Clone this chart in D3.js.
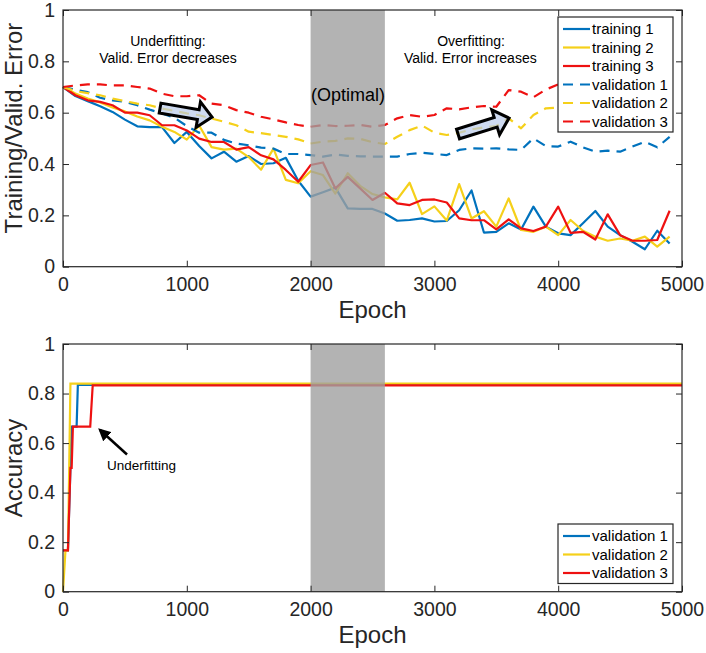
<!DOCTYPE html>
<html>
<head>
<meta charset="utf-8">
<script src="https://cdn.jsdelivr.net/npm/d3@7"></script>
<style>
  html, body { margin: 0; padding: 0; background: #fff; }
  svg { display: block; font-family: "Liberation Sans", Arial, sans-serif; }
</style>
</head>
<body>
<svg id="chart" width="706" height="653"></svg>
<script>
// ---------- DATA ----------
const epochs = d3.range(0, 5000, 100); // 0..4900 (50 points)

const training1 = [0.70,0.665,0.645,0.625,0.603,0.573,0.547,0.544,0.544,0.482,
  0.525,0.47,0.422,0.448,0.409,0.431,0.400,0.403,0.424,0.335,
  0.273,0.29,0.308,0.227,0.225,0.225,0.207,0.179,0.182,0.188,
  0.176,0.178,0.22,0.297,0.133,0.136,0.169,0.145,0.234,0.156,
  0.13,0.123,0.169,0.217,0.156,0.123,0.097,0.068,0.14,0.09];
const training2 = [0.70,0.675,0.655,0.64,0.62,0.605,0.585,0.57,0.545,0.525,
  0.495,0.55,0.466,0.456,0.46,0.427,0.378,0.46,0.338,0.325,
  0.372,0.357,0.285,0.364,0.315,0.283,0.27,0.262,0.327,0.205,
  0.235,0.18,0.322,0.188,0.216,0.156,0.266,0.143,0.136,0.156,
  0.123,0.182,0.14,0.117,0.101,0.11,0.101,0.117,0.078,0.117];
const training3 = [0.70,0.668,0.648,0.642,0.629,0.60,0.60,0.59,0.551,0.551,
  0.531,0.499,0.486,0.486,0.456,0.466,0.434,0.418,0.377,0.331,
  0.396,0.406,0.305,0.35,0.305,0.26,0.288,0.247,0.24,0.26,
  0.262,0.25,0.188,0.181,0.181,0.145,0.184,0.149,0.139,0.156,
  0.234,0.132,0.136,0.106,0.204,0.123,0.101,0.101,0.104,0.218];
const validation1 = [0.70,0.69,0.68,0.658,0.648,0.642,0.629,0.612,0.597,0.58,
  0.548,0.522,0.522,0.494,0.48,0.473,0.464,0.46,0.439,0.439,
  0.435,0.429,0.437,0.432,0.43,0.429,0.429,0.429,0.439,0.444,
  0.439,0.435,0.455,0.461,0.46,0.461,0.457,0.455,0.50,0.47,
  0.468,0.487,0.465,0.448,0.452,0.448,0.468,0.487,0.465,0.506];
const validation2 = [0.70,0.684,0.676,0.668,0.655,0.645,0.635,0.629,0.616,0.607,
  0.597,0.59,0.577,0.565,0.551,0.526,0.52,0.513,0.506,0.496,
  0.48,0.487,0.49,0.50,0.498,0.485,0.478,0.506,0.532,0.55,
  0.522,0.513,0.522,0.535,0.543,0.548,0.578,0.539,0.591,0.617,
  0.62,0.625,0.63,0.62,0.635,0.64,0.63,0.645,0.64,0.65];
const validation3 = [0.70,0.706,0.71,0.71,0.706,0.706,0.70,0.694,0.674,0.664,
  0.664,0.668,0.635,0.629,0.61,0.60,0.584,0.574,0.562,0.552,
  0.545,0.552,0.548,0.549,0.552,0.545,0.552,0.578,0.591,0.584,
  0.591,0.617,0.613,0.621,0.626,0.623,0.688,0.682,0.66,0.69,
  0.71,0.72,0.70,0.73,0.74,0.72,0.75,0.74,0.76,0.75];

// bottom panel: validation accuracy (step-like)
const accEpochs1 = [0,40,60,70,110,120,5000];
const accValues1 = [0.1667,0.1667,0.5,0.6667,0.6667,0.835,0.835];
const accEpochs2 = [0,20,40,50,60,5000];
const accValues2 = [0,0.1667,0.1667,0.5,0.84,0.84];
const accEpochs3 = [0,40,60,70,80,220,240,5000];
const accValues3 = [0.1667,0.1667,0.5,0.5,0.6667,0.6667,0.8333,0.8333];

const xTicks = [0,1000,2000,3000,4000,5000];
const yTicks = [0,0.2,0.4,0.6,0.8,1];
const optimalRange = [2000, 2600];

const topNames = ["training 1","training 2","training 3","validation 1","validation 2","validation 3"];
const bottomNames = ["validation 1","validation 2","validation 3"];
const seriesColors = ["#0072BD","#F5D01A","#EE1111"];

// ---------- SETUP ----------
const svg = d3.select("#chart");
svg.append("rect").attr("width",706).attr("height",653).attr("fill","#fff");

const x = d3.scaleLinear().domain([0,5000]).range([63,682]);
const yTop = d3.scaleLinear().domain([0,1]).range([266.7,10]);
const yBot = d3.scaleLinear().domain([0,1]).range([591.7,344]);

const axisColor = "#262626";
const tickFont = "19.5px";

function drawAxes(y, labelText, labelY, xLabelY) {
  const g = svg.append("g");
  g.append("g").attr("transform",`translate(0,${y(0)})`)
    .call(d3.axisBottom(x).tickValues(xTicks).tickFormat(d3.format("d")).tickSizeInner(-6).tickSizeOuter(0).tickPadding(10));
  g.append("g").attr("transform",`translate(0,${y(1)})`)
    .call(d3.axisTop(x).tickValues(xTicks).tickFormat("").tickSizeInner(-6).tickSizeOuter(0));
  g.append("g").attr("transform",`translate(${x(0)},0)`)
    .call(d3.axisLeft(y).tickValues(yTicks).tickFormat(d => d===0||d===1 ? String(d) : d3.format(".1f")(d)).tickSizeInner(-6).tickSizeOuter(0).tickPadding(8));
  g.append("g").attr("transform",`translate(${x(5000)},0)`)
    .call(d3.axisRight(y).tickValues(yTicks).tickFormat("").tickSizeInner(-6).tickSizeOuter(0));
  g.selectAll(".domain").remove();
  g.selectAll(".tick line").attr("stroke",axisColor).attr("stroke-width",1);
  g.selectAll(".tick text").attr("fill",axisColor).style("font-size",tickFont)
    .style("font-family","'Liberation Sans', Arial, sans-serif");
  g.append("rect").attr("x",x(0)).attr("y",y(1)).attr("width",x(5000)-x(0)).attr("height",y(0)-y(1))
    .attr("fill","none").attr("stroke",axisColor).attr("stroke-width",1.2);
  g.append("text").attr("transform",`translate(22,${labelY}) rotate(-90)`)
    .attr("text-anchor","middle").attr("fill",axisColor).style("font-size","24px").text(labelText);
  g.append("text").attr("x",(x(0)+x(5000))/2).attr("y",xLabelY)
    .attr("text-anchor","middle").attr("fill",axisColor).style("font-size","24px").text("Epoch");
}

function blockArrow(g, tail, tip) {
  const x0 = x(tail[0]), y0 = yTop(tail[1]), x1 = x(tip[0]), y1 = yTop(tip[1]);
  const L = Math.hypot(x1-x0, y1-y0);
  const ang = Math.atan2(y1-y0, x1-x0) * 180 / Math.PI;
  const hl = 14, sw = 5, hw = 13;
  const pts = [[0,-sw],[L-hl,-sw],[L-hl,-hw],[L,0],[L-hl,hw],[L-hl,sw],[0,sw]];
  g.append("polygon").attr("points", pts.map(p=>p.join(",")).join(" "))
    .attr("transform",`translate(${x0},${y0}) rotate(${ang})`)
    .attr("fill","rgb(185,203,234)").attr("fill-opacity",0.7)
    .attr("stroke","#000").attr("stroke-width",3).attr("stroke-linejoin","miter");
}

// ---------- TOP PANEL ----------
const topSeries = [training1,training2,training3,validation1,validation2,validation3];
const lineTop = d3.line().x((d,i)=>x(epochs[i])).y(d=>yTop(d));
const topG = svg.append("g");
topSeries.forEach((s,k) => {
  topG.append("path").attr("d", lineTop(s)).attr("fill","none")
    .attr("stroke", seriesColors[k%3]).attr("stroke-width",2.2)
    .attr("stroke-dasharray", k>=3 ? "10,7" : null)
    .attr("stroke-linejoin","round");
});
topG.append("rect").attr("x",x(optimalRange[0])).attr("width",x(optimalRange[1])-x(optimalRange[0]))
  .attr("y",yTop(1)).attr("height",yTop(0)-yTop(1)).attr("fill","#a0a0a0").attr("fill-opacity",0.8);

blockArrow(topG, [784,0.618], [1204,0.583]);
blockArrow(topG, [3191,0.517], [3603,0.579]);

const ann = topG.append("g").attr("fill","#000").style("font-size","14px").attr("text-anchor","middle");
ann.append("text").attr("x",x(848)).attr("y",yTop(0.86)).text("Underfitting:");
ann.append("text").attr("x",x(848)).attr("y",yTop(0.793)).text("Valid. Error decreases");
ann.append("text").attr("x",x(3296)).attr("y",yTop(0.86)).text("Overfitting:");
ann.append("text").attr("x",x(3290)).attr("y",yTop(0.793)).text("Valid. Error increases");
topG.append("text").attr("x",x(2302)).attr("y",yTop(0.645)).attr("text-anchor","middle")
  .style("font-size","18px").attr("fill","#000").text("(Optimal)");

function legend(g, names, left, top, width, rowH, dashedFrom) {
  const lg = g.append("g");
  lg.append("rect").attr("x",left).attr("y",top).attr("width",width).attr("height",rowH*names.length+4)
    .attr("fill","#fff").attr("stroke",axisColor).attr("stroke-width",1.2);
  names.forEach((n,i) => {
    const cy = top + 12 + i*rowH;
    lg.append("line").attr("x1",left+5).attr("x2",left+32).attr("y1",cy).attr("y2",cy)
      .attr("stroke",seriesColors[i%3]).attr("stroke-width",2.2)
      .attr("stroke-dasharray", i>=dashedFrom ? "10,7" : null);
    lg.append("text").attr("x",left+34).attr("y",cy).attr("dy","0.35em")
      .style("font-size","15px").attr("fill","#000").text(n);
  });
}
legend(topG, topNames, 558, 17, 115, 18.5, 3);

drawAxes(yTop, "Training/Valid. Error", 128, 318);

// ---------- BOTTOM PANEL ----------
const botG = svg.append("g");
const accData = [[accEpochs1,accValues1],[accEpochs2,accValues2],[accEpochs3,accValues3]];
accData.forEach(([ex,vals],k) => {
  const line = d3.line().x((d,i)=>x(ex[i])).y(d=>yBot(d));
  botG.append("path").attr("d", line(vals)).attr("fill","none")
    .attr("stroke",seriesColors[k]).attr("stroke-width",2.2).attr("stroke-linejoin","miter");
});
botG.append("rect").attr("x",x(optimalRange[0])).attr("width",x(optimalRange[1])-x(optimalRange[0]))
  .attr("y",yBot(1)).attr("height",yBot(0)-yBot(1)).attr("fill","#a0a0a0").attr("fill-opacity",0.8);

svg.append("defs").append("marker").attr("id","ah").attr("viewBox","0 0 10 10")
  .attr("refX",8).attr("refY",5).attr("markerWidth",5).attr("markerHeight",5).attr("orient","auto")
  .append("path").attr("d","M0,0 L10,5 L0,10 z").attr("fill","#000");
botG.append("line").attr("x1",x(517)).attr("y1",yBot(0.554)).attr("x2",x(299)).attr("y2",yBot(0.653))
  .attr("stroke","#000").attr("stroke-width",2.5).attr("marker-end","url(#ah)");
botG.append("text").attr("x",x(355)).attr("y",yBot(0.49)).style("font-size","13.5px").attr("fill","#000").text("Underfitting");

legend(botG, bottomNames, 558, 524, 115, 18.5, 99);

drawAxes(yBot, "Accuracy", 468, 643);
</script>
</body>
</html>
